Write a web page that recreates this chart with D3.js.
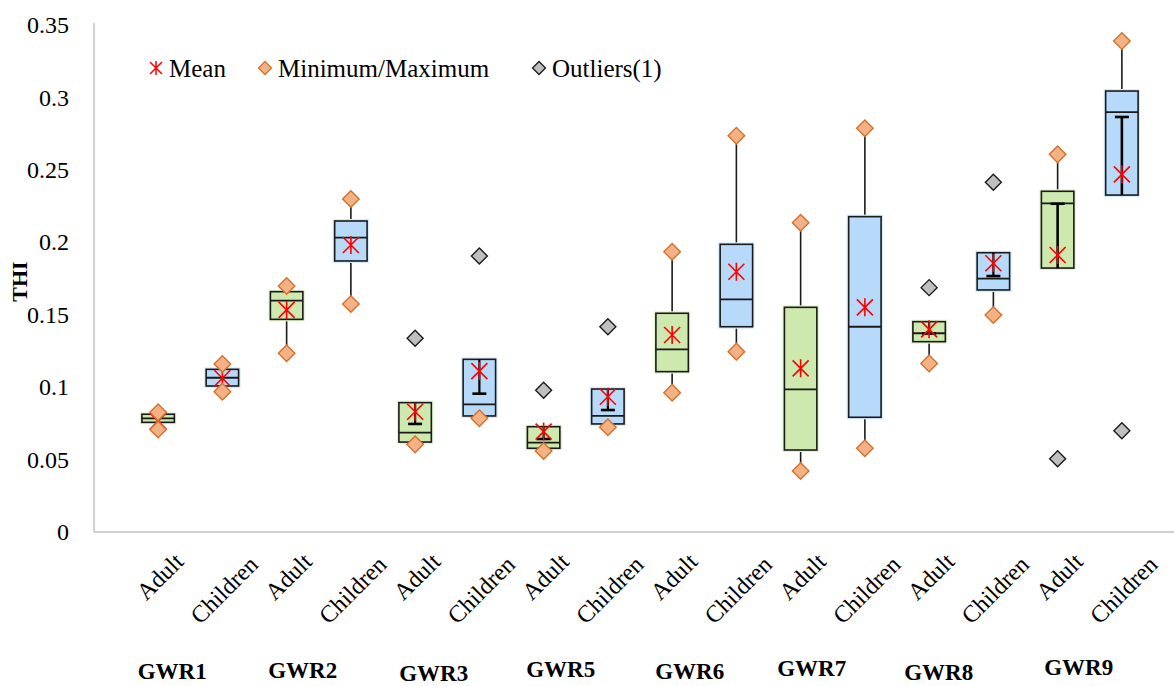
<!DOCTYPE html>
<html>
<head>
<meta charset="utf-8">
<script src="https://cdn.jsdelivr.net/npm/d3@7"></script>
<style>
  html, body { margin: 0; padding: 0; background: #ffffff; }
  svg { display: block; }
  text { font-family: "Palatino Linotype", "Book Antiqua", Palatino, "Liberation Serif", serif; fill: #000; }
</style>
</head>
<body>
<svg id="chart" width="1174" height="686"></svg>
<script>
// ---- Data: THI by groundwater site and receptor group ----
const groups = ["GWR1", "GWR2", "GWR3", "GWR5", "GWR6", "GWR7", "GWR8", "GWR9"];
const roles = ["Adult", "Children"];

// One entry per box, ordered GWR1 Adult, GWR1 Children, GWR2 Adult, ...
const q1 =          [0.0757, 0.1008, 0.1468, 0.1871, 0.0621, 0.0801, 0.0578, 0.0746, 0.1107, 0.1417, 0.0566, 0.0792, 0.1314, 0.1671, 0.1822, 0.2326];
const median =      [0.0785, 0.1065, 0.1597, 0.2032, 0.0686, 0.0881, 0.0617, 0.0801, 0.1261, 0.1606, 0.0985, 0.1417, 0.1372, 0.1749, 0.2269, 0.2899];
const q3 =          [0.0813, 0.1123, 0.1659, 0.2147, 0.0893, 0.1192, 0.0727, 0.0987, 0.1510, 0.1986, 0.1551, 0.2177, 0.1452, 0.1928, 0.2352, 0.3044];
const mean =        [0.0765, 0.1061, 0.1533, 0.1981, 0.0830, 0.1111, 0.0693, 0.0934, 0.1360, 0.1797, 0.1130, 0.1551, 0.1399, 0.1855, 0.1912, 0.2469];
const whiskerLow =  [0.0708, 0.0969, 0.1234, 0.1574, 0.0605, 0.0785, 0.0559, 0.0723, 0.0962, 0.1245, 0.0421, 0.0578, 0.1164, 0.1498, 0.2266, 0.2865];
const whiskerHigh = [0.0826, 0.1160, 0.1698, 0.2299, 0.0746, 0.0955, 0.0642, 0.0842, 0.1935, 0.2736, 0.2135, 0.2787, 0.1370, 0.1767, 0.2607, 0.3389];
const minimum =     [0.0708, 0.0969, 0.1234, 0.1574, 0.0605, 0.0785, 0.0559, 0.0723, 0.0962, 0.1245, 0.0421, 0.0578, 0.1164, 0.1498, null,   null  ];
const maximum =     [0.0826, 0.1160, 0.1698, 0.2299, null,   null,   null,   null,   0.1935, 0.2736, 0.2135, 0.2787, null,   null,   0.2607, 0.3389];
const outliers =    [null,   null,   null,   null,   0.1337, 0.1905, 0.0978, 0.1417, null,   null,   null,   null,   0.1687, 0.2414, 0.0506, 0.0699];

const yTicks = [0, 0.05, 0.1, 0.15, 0.2, 0.25, 0.3, 0.35];
const yTickLabels = ["0", "0.05", "0.1", "0.15", "0.2", "0.25", "0.3", "0.35"];
const yTitle = "THI";
const legendLabels = ["Mean", "Minimum/Maximum", "Outliers(1)"];

// ---- Layout / style ----
const W = 1174, H = 686;
const plot = { left: 94, top: 25, bottom: 532, right: 1174 };
const fills = { Adult: "#CDE9AD", Children: "#B7D9FA" };
const glow = { Adult: "#E2F2CF", Children: "#D6EAFC" };
const groupLabelDx = [14, 16, 18.5, 17, 17.5, 11, 9.5, 21];
const groupLabelBaseline = [679, 678, 680.5, 676.5, 679, 675.5, 680, 675];
const legendMarkerX = [156, 265, 539];
const legendY = 68;

const boxes = [];
groups.forEach((g, gi) => roles.forEach((r, ri) => {
  const i = gi * 2 + ri;
  boxes.push({
    key: g + " " + r, group: g, role: r, i,
    q1: q1[i], median: median[i], q3: q3[i], mean: mean[i],
    lo: whiskerLow[i], hi: whiskerHigh[i],
    min: minimum[i], max: maximum[i], out: outliers[i]
  });
}));

const svg = d3.select("#chart");
svg.append("rect").attr("width", W).attr("height", H).attr("fill", "#fff");

const x = d3.scaleBand()
  .domain(boxes.map(d => d.key))
  .range([126, 1154]);
const y = d3.scaleLinear().domain([0, 0.35]).range([plot.bottom, plot.top]);
const cx = d => x(d.key) + x.bandwidth() / 2;
const bw = x.bandwidth() * 0.505;

// ---- Axes ----
const yAxis = d3.axisLeft(y)
  .tickValues(yTicks)
  .tickFormat((d, i) => yTickLabels[i])
  .tickSize(0)
  .tickSizeOuter(0)
  .tickPadding(25);
const gy = svg.append("g").attr("transform", `translate(${plot.left},0)`).call(yAxis);
gy.select(".domain").attr("stroke", "#BFBFBF").attr("stroke-width", 1.4)
  .attr("d", `M0,${plot.top - 2}V${plot.bottom}`);
gy.selectAll(".tick text")
  .style("font-family", '"Palatino Linotype", "Book Antiqua", Palatino, "Liberation Serif", serif')
  .style("font-size", "24px").attr("fill", "#000");

svg.append("line")
  .attr("x1", plot.left).attr("x2", plot.right)
  .attr("y1", plot.bottom).attr("y2", plot.bottom)
  .attr("stroke", "#BFBFBF").attr("stroke-width", 1.4);

// y title
svg.append("text")
  .attr("transform", `translate(27,${(y(0.2) + y(0.15)) / 2 + 3}) rotate(-90)`)
  .attr("text-anchor", "middle")
  .style("font-weight", "bold").style("font-size", "22px")
  .text(yTitle);

// category labels, rotated -45°
const catG = svg.append("g");
boxes.forEach(d => {
  const t = catG.append("text")
    .style("font-size", "24px")
    .attr("text-anchor", "middle")
    .text(d.role);
  const L = t.node().getComputedTextLength();
  const mx = cx(d) + 7.5, my = 557.5 + 0.4536 * L;
  t.attr("transform", `translate(${mx},${my}) rotate(-45)`);
});

// group labels
svg.append("g").selectAll("text").data(groups).join("text")
  .attr("x", (g, gi) => cx(boxes[gi * 2]) + groupLabelDx[gi])
  .attr("y", (g, gi) => groupLabelBaseline[gi])
  .attr("text-anchor", "middle")
  .style("font-weight", "bold").style("font-size", "23px")
  .text(g => g);

// ---- Marks ----
const diamond = r => `M0,${-r}L${r},0L0,${r}L${-r},0Z`;
const star = (s, v) => `M${-s},${-s}L${s},${s}M${-s},${s}L${s},${-s}M0,${-v}L0,${v}`;

const marks = svg.append("g");

// outer whiskers (outside the box)
boxes.forEach(d => {
  if (d.hi > d.q3) {
    marks.append("line").attr("x1", cx(d)).attr("x2", cx(d))
      .attr("y1", y(d.q3)).attr("y2", y(d.hi))
      .attr("stroke", "#1a1a1a").attr("stroke-width", 1.6);
  }
  if (d.lo < d.q1) {
    marks.append("line").attr("x1", cx(d)).attr("x2", cx(d))
      .attr("y1", y(d.q1)).attr("y2", y(d.lo))
      .attr("stroke", "#1a1a1a").attr("stroke-width", 1.6);
  }
});

// boxes with a soft coloured rim
boxes.forEach(d => {
  const bx = cx(d) - bw / 2, top = y(d.q3), h = y(d.q1) - y(d.q3);
  marks.append("rect").attr("x", bx).attr("y", top).attr("width", bw).attr("height", h)
    .attr("fill", fills[d.role]).attr("stroke", glow[d.role]).attr("stroke-width", 4);
  marks.append("rect").attr("x", bx).attr("y", top).attr("width", bw).attr("height", h)
    .attr("fill", fills[d.role]).attr("stroke", "#1a1a1a").attr("stroke-width", 1.6);
  marks.append("line").attr("x1", bx).attr("x2", bx + bw)
    .attr("y1", y(d.median)).attr("y2", y(d.median))
    .attr("stroke", "#1a1a1a").attr("stroke-width", 1.8);
});

// whiskers that end inside the box (capped)
boxes.forEach(d => {
  const capW = 14;
  if (d.hi < d.q3) {
    marks.append("line").attr("x1", cx(d)).attr("x2", cx(d))
      .attr("y1", y(d.q3)).attr("y2", y(d.hi))
      .attr("stroke", "#000").attr("stroke-width", 2.2);
    marks.append("line").attr("x1", cx(d) - capW / 2).attr("x2", cx(d) + capW / 2)
      .attr("y1", y(d.hi)).attr("y2", y(d.hi))
      .attr("stroke", "#000").attr("stroke-width", 2.6);
  }
  if (d.lo > d.q1) {
    marks.append("line").attr("x1", cx(d)).attr("x2", cx(d))
      .attr("y1", y(d.q1)).attr("y2", y(d.lo))
      .attr("stroke", "#000").attr("stroke-width", 2.6);
    marks.append("line").attr("x1", cx(d) - capW / 2).attr("x2", cx(d) + capW / 2)
      .attr("y1", y(d.lo)).attr("y2", y(d.lo))
      .attr("stroke", "#000").attr("stroke-width", 2.6);
  }
});

// means
marks.selectAll(".mean").data(boxes).join("path")
  .attr("class", "mean")
  .attr("transform", d => `translate(${cx(d)},${y(d.mean)})`)
  .attr("d", star(8, 9))
  .attr("fill", "none").attr("stroke", "#FF0000").attr("stroke-width", 1.6);

// minimum / maximum markers
const mm = [];
boxes.forEach(d => {
  if (d.min != null) mm.push({ d, v: d.min });
  if (d.max != null) mm.push({ d, v: d.max });
});
marks.selectAll(".mm").data(mm).join("path")
  .attr("class", "mm")
  .attr("transform", m => `translate(${cx(m.d)},${y(m.v)})`)
  .attr("d", diamond(8.3))
  .attr("fill", "#F4B183").attr("stroke", "#D2722F").attr("stroke-width", 1.4);

// outliers
marks.selectAll(".out").data(boxes.filter(d => d.out != null)).join("path")
  .attr("class", "out")
  .attr("transform", d => `translate(${cx(d)},${y(d.out)})`)
  .attr("d", diamond(8))
  .attr("fill", "#BFBFBF").attr("stroke", "#1a1a1a").attr("stroke-width", 1.4);

// ---- Legend ----
const lg = svg.append("g");
lg.append("path").attr("transform", `translate(${legendMarkerX[0]},${legendY})`)
  .attr("d", star(6, 7)).attr("fill", "none").attr("stroke", "#FF0000").attr("stroke-width", 1.5);
lg.append("path").attr("transform", `translate(${legendMarkerX[1]},${legendY})`)
  .attr("d", diamond(6.5)).attr("fill", "#F4B183").attr("stroke", "#D2722F").attr("stroke-width", 1.3);
lg.append("path").attr("transform", `translate(${legendMarkerX[2]},${legendY})`)
  .attr("d", diamond(6.5)).attr("fill", "#BFBFBF").attr("stroke", "#1a1a1a").attr("stroke-width", 1.3);
legendLabels.forEach((t, i) => {
  lg.append("text").attr("x", legendMarkerX[i] + 13).attr("y", legendY + 9)
    .style("font-size", "25px").text(t);
});
</script>
</body>
</html>
